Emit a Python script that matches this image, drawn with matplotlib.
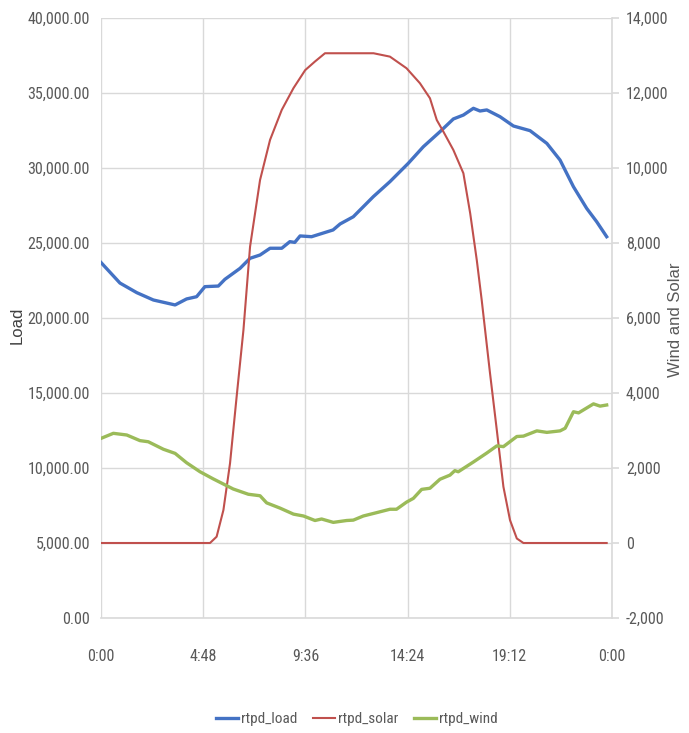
import matplotlib
matplotlib.use("Agg")
import matplotlib.pyplot as plt
from matplotlib import font_manager
from matplotlib.font_manager import FontProperties
from matplotlib.ticker import FuncFormatter, FixedLocator

# ---- data (hours since midnight, values) ----
load_t = [0, 0.89, 1.68, 2.46, 3.48, 4.02, 4.49, 4.88, 5.51, 5.82, 6.53, 7.0, 7.47,
          7.94, 8.49, 8.87, 9.1, 9.35, 9.89, 10.9, 11.23, 11.85, 12.79, 13.57, 14.43,
          15.14, 15.92, 16.55, 17.02, 17.49, 17.8, 18.12, 18.74, 19.37, 20.15, 20.94,
          21.56, 22.19, 22.81, 23.28, 23.75]
load_v = [23700, 22330, 21690, 21200, 20870, 21270, 21420, 22090, 22130, 22580, 23310,
          23980, 24200, 24650, 24650, 25090, 25040, 25470, 25420, 25870, 26270, 26750,
          28090, 29090, 30310, 31420, 32420, 33270, 33530, 33980, 33800, 33870, 33420,
          32800, 32490, 31640, 30530, 28750, 27310, 26420, 25420]

solar_t = [0, 2.0, 4.0, 5.12, 5.43, 5.75, 6.06, 6.37, 6.69, 7.0, 7.47, 7.94, 8.49,
           9.04, 9.59, 10.05, 10.52, 11.7, 12.8, 13.57, 14.35, 14.98, 15.45, 15.77,
           16.08, 16.55, 17.02, 17.34, 17.65, 17.88, 18.04, 18.27, 18.59, 18.9, 19.21,
           19.53, 19.84, 21.0, 22.5, 23.75]
solar_v = [0, 0, 0, 0, 168, 880, 2125, 3900, 5680, 7900, 9680, 10750, 11550, 12130,
           12610, 12840, 13060, 13060, 13060, 12970, 12660, 12260, 11860, 11280, 10970,
           10480, 9860, 8790, 7540, 6480, 5680, 4530, 3010, 1500, 610, 120, 0, 0, 0, 0]

wind_t = [0, 0.58, 1.21, 1.83, 2.22, 2.93, 3.48, 4.02, 4.65, 5.27, 6.21, 6.92, 7.47,
          7.78, 8.41, 9.04, 9.51, 10.05, 10.36, 10.91, 11.54, 11.85, 12.32, 12.95,
          13.57, 13.88, 14.35, 14.67, 15.06, 15.45, 15.92, 16.39, 16.62, 16.78, 17.49,
          18.12, 18.59, 18.9, 19.53, 19.84, 20.47, 20.94, 21.56, 21.8, 22.19, 22.43,
          23.13, 23.44, 23.75]
wind_v = [2790, 2925, 2880, 2730, 2700, 2500, 2390, 2140, 1900, 1710, 1440, 1300, 1260,
          1070, 930, 770, 720, 600, 640, 550, 600, 610, 720, 810, 900, 900, 1090, 1190,
          1430, 1460, 1700, 1810, 1930, 1900, 2160, 2400, 2590, 2570, 2840, 2850, 2990,
          2950, 2990, 3060, 3500, 3470, 3710, 3650, 3680]

x_ticks = [0, 4.8, 9.6, 14.4, 19.2, 24]
x_labels = ["0:00", "4:48", "9:36", "14:24", "19:12", "0:00"]

# ---- find a condensed font if one is installed ----
def pick_condensed():
    prefs = ["liberation sans narrow", "roboto condensed", "open sans condensed",
             "dejavu sans condensed", "noto sans condensed"]
    cands = []
    for f in font_manager.fontManager.ttflist:
        fn = f.fname.lower()
        nm = f.name.lower()
        if "bold" in fn or "italic" in fn or "oblique" in fn or "light" in fn:
            continue
        if ("narrow" in fn or "condensed" in fn or "narrow" in nm or "condensed" in nm
                or f.stretch in ("condensed", "semi-condensed")):
            rank = len(prefs)
            for i, p in enumerate(prefs):
                if p.replace(" ", "") in fn.replace("-", "").replace("_", "") or p == nm:
                    rank = i
                    break
            cands.append((rank, f.fname))
    if cands:
        cands.sort()
        return cands[0][1]
    return None

cpath = pick_condensed()
if cpath:
    TICKFONT = FontProperties(fname=cpath, size=11.5)
    LEGFONT = FontProperties(fname=cpath, size=11)
else:
    TICKFONT = FontProperties(family=["Liberation Sans", "DejaVu Sans"], size=10.5)
    LEGFONT = FontProperties(family=["Liberation Sans", "DejaVu Sans"], size=10)

TICKC = "#595959"
GRIDC = "#d9d9d9"

fig = plt.figure(figsize=(6.89, 7.33), dpi=100)
ax = fig.add_axes([101/689, 1 - 618/733, (612-101)/689, 600/733])
ax2 = ax.twinx()

ax.set_xlim(0, 24)
ax.set_ylim(0, 40000)
ax2.set_ylim(-2000, 14000)

ax.xaxis.set_major_locator(FixedLocator(x_ticks))
ax.set_xticklabels(x_labels)
ax.set_yticks(range(0, 40001, 5000))
ax.yaxis.set_major_formatter(FuncFormatter(lambda v, p: f"{v:,.2f}"))
ax2.set_yticks(range(-2000, 14001, 2000))
ax2.yaxis.set_major_formatter(FuncFormatter(lambda v, p: f"{v:,.0f}"))

ax.grid(True, color=GRIDC, linewidth=1.0)
ax.set_axisbelow(True)

for s in ["top", "left", "right"]:
    ax.spines[s].set_visible(False)
ax.spines["bottom"].set_color(GRIDC)
ax.spines["bottom"].set_linewidth(1.2)
for s in ["top", "left", "bottom"]:
    ax2.spines[s].set_visible(False)
ax2.spines["right"].set_color(GRIDC)
ax2.spines["right"].set_linewidth(1.2)

ax.tick_params(axis="x", length=0, pad=22, labelcolor=TICKC)
ax.tick_params(axis="y", length=0, pad=8, labelcolor=TICKC)
ax2.tick_params(axis="y", length=5, width=1.2, color=GRIDC, pad=5, labelcolor=TICKC)
for lab in ax.get_xticklabels() + ax.get_yticklabels() + ax2.get_yticklabels():
    lab.set_fontproperties(TICKFONT)

l1, = ax.plot(load_t, load_v, color="#4472C4", linewidth=2.4, label="rtpd_load")
l2, = ax2.plot(solar_t, solar_v, color="#C0504D", linewidth=1.5, label="rtpd_solar")
l3, = ax2.plot(wind_t, wind_v, color="#9BBB59", linewidth=2.4, label="rtpd_wind")

fig.text(17/689, 1 - 325/733, "Load", rotation=90, ha="center", va="center",
         fontsize=12, color="#404040", family=["Liberation Sans", "DejaVu Sans"])
fig.text(676/689, 1 - 320/733, "Wind and Solar", rotation=90, ha="center", va="center",
         fontsize=12, color="#595959", family=["Liberation Sans", "DejaVu Sans"])

leg = fig.legend(handles=[l1, l2, l3], loc="center", bbox_to_anchor=(357/689, 1 - 719/733),
                 ncol=3, frameon=False, handlelength=1.45, columnspacing=1.0,
                 handletextpad=0.2, prop=LEGFONT)
for t in leg.get_texts():
    t.set_color(TICKC)

fig.savefig("out.png", dpi=100)
